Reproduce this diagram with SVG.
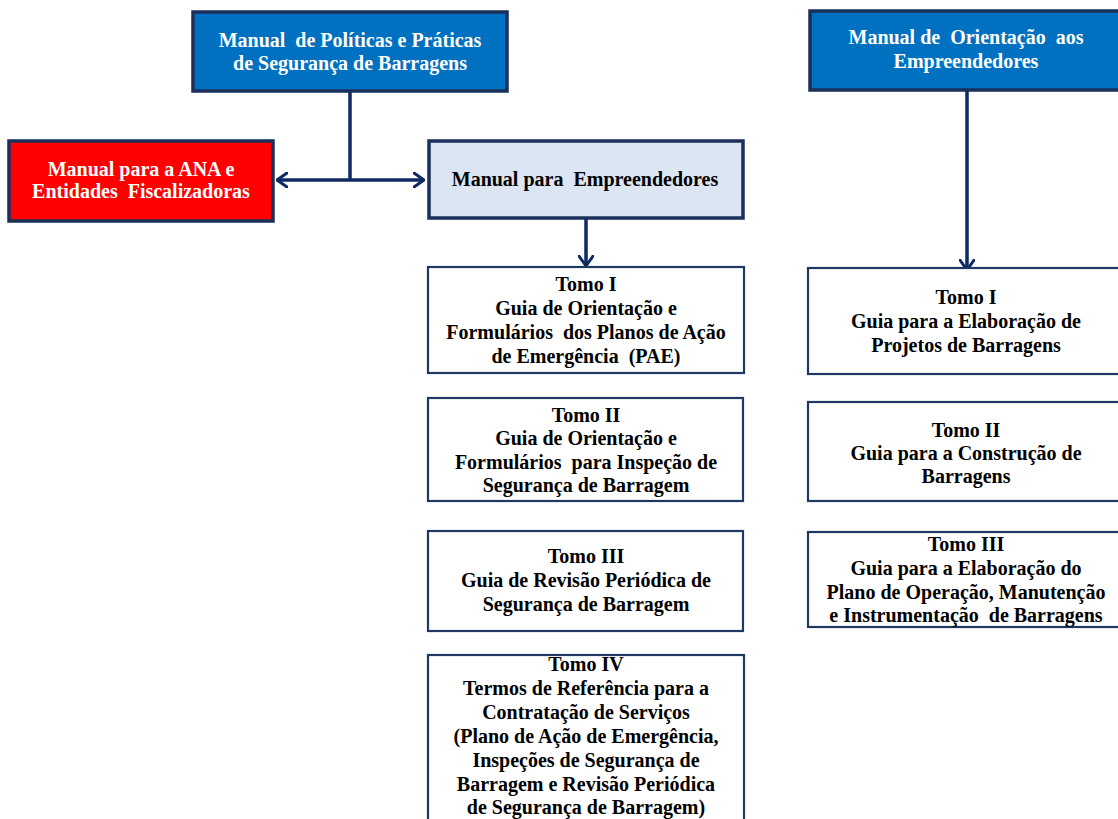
<svg xmlns="http://www.w3.org/2000/svg" width="1118" height="819" viewBox="0 0 1118 819">
<defs>
<marker id="chev" viewBox="0 0 12 16" refX="11" refY="8" markerWidth="12" markerHeight="16" markerUnits="userSpaceOnUse" orient="auto-start-reverse">
<path d="M1,1 L11,8 L1,15" fill="none" stroke="#0f2a63" stroke-width="3" stroke-linecap="round" stroke-linejoin="round"/>
</marker>
<style>
text{font-family:"Liberation Serif","Times New Roman",serif;font-weight:bold;font-size:20px;text-anchor:middle;white-space:pre;}
.w{fill:#ffffff;}
.k{fill:#000000;}
.blue{fill:#0070c0;stroke:#1a2f5a;stroke-width:3.5;}
.red{fill:#ff0000;stroke:#1a2f5a;stroke-width:3.5;}
.light{fill:#dce6f2;stroke:#1a2f5a;stroke-width:3.5;}
.tomo{fill:#ffffff;stroke:#1f3864;stroke-width:2.2;}
.conn{fill:none;stroke:#0f2a63;stroke-width:3.5;}
</style>
</defs>
<rect width="1118" height="819" fill="#ffffff"/>

<g id="connectors">
<path class="conn" d="M350,92 V180"/>
<path class="conn" d="M277,180 H424" marker-start="url(#chev)" marker-end="url(#chev)"/>
<path class="conn" d="M586,219 V266" marker-end="url(#chev)"/>
<path class="conn" d="M967,91 V270" marker-end="url(#chev)"/>
</g>

<g id="n-politicas">
<rect class="blue" x="193" y="12" width="314" height="79"/>
<text class="w" x="350" y="47">Manual  de Políticas e Práticas</text>
<text class="w" x="350" y="70">de Segurança de Barragens</text>
</g>

<g id="n-ana">
<rect class="red" x="9" y="141" width="264" height="80"/>
<text class="w" x="141" y="176">Manual para a ANA e</text>
<text class="w" x="141" y="198">Entidades  Fiscalizadoras</text>
</g>

<g id="n-empreendedores">
<rect class="light" x="429" y="141" width="314" height="77"/>
<text class="k" x="585" y="186">Manual para  Empreendedores</text>
</g>

<g id="n-orientacao">
<rect class="blue" x="810" y="11" width="320" height="79"/>
<text class="w" x="966" y="44">Manual de  Orientação  aos</text>
<text class="w" x="966" y="68">Empreendedores</text>
</g>

<g id="n-l-tomo1">
<rect class="tomo" x="428" y="267" width="316" height="106"/>
<text class="k" x="586" y="291">Tomo I</text>
<text class="k" x="586" y="315">Guia de Orientação e</text>
<text class="k" x="586" y="339">Formulários  dos Planos de Ação</text>
<text class="k" x="586" y="363">de Emergência  (PAE)</text>
</g>

<g id="n-l-tomo2">
<rect class="tomo" x="428" y="398" width="315" height="103"/>
<text class="k" x="586" y="422">Tomo II</text>
<text class="k" x="586" y="445">Guia de Orientação e</text>
<text class="k" x="586" y="469">Formulários  para Inspeção de</text>
<text class="k" x="586" y="492">Segurança de Barragem</text>
</g>

<g id="n-l-tomo3">
<rect class="tomo" x="428" y="531" width="315" height="100"/>
<text class="k" x="586" y="563">Tomo III</text>
<text class="k" x="586" y="587">Guia de Revisão Periódica de</text>
<text class="k" x="586" y="611">Segurança de Barragem</text>
</g>

<g id="n-l-tomo4">
<rect class="tomo" x="428" y="655" width="316" height="180"/>
<text class="k" x="586" y="671">Tomo IV</text>
<text class="k" x="586" y="695">Termos de Referência para a</text>
<text class="k" x="586" y="719">Contratação de Serviços</text>
<text class="k" x="586" y="743">(Plano de Ação de Emergência,</text>
<text class="k" x="586" y="767">Inspeções de Segurança de</text>
<text class="k" x="586" y="791">Barragem e Revisão Periódica</text>
<text class="k" x="586" y="814">de Segurança de Barragem)</text>
</g>

<g id="n-r-tomo1">
<rect class="tomo" x="808" y="268" width="320" height="106"/>
<text class="k" x="966" y="304">Tomo I</text>
<text class="k" x="966" y="328">Guia para a Elaboração de</text>
<text class="k" x="966" y="352">Projetos de Barragens</text>
</g>

<g id="n-r-tomo2">
<rect class="tomo" x="808" y="402" width="320" height="99"/>
<text class="k" x="966" y="437">Tomo II</text>
<text class="k" x="966" y="460">Guia para a Construção de</text>
<text class="k" x="966" y="483">Barragens</text>
</g>

<g id="n-r-tomo3">
<rect class="tomo" x="808" y="532" width="320" height="95"/>
<text class="k" x="966" y="551">Tomo III</text>
<text class="k" x="966" y="575">Guia para a Elaboração do</text>
<text class="k" x="966" y="599">Plano de Operação, Manutenção</text>
<text class="k" x="966" y="622">e Instrumentação  de Barragens</text>
</g>
</svg>
